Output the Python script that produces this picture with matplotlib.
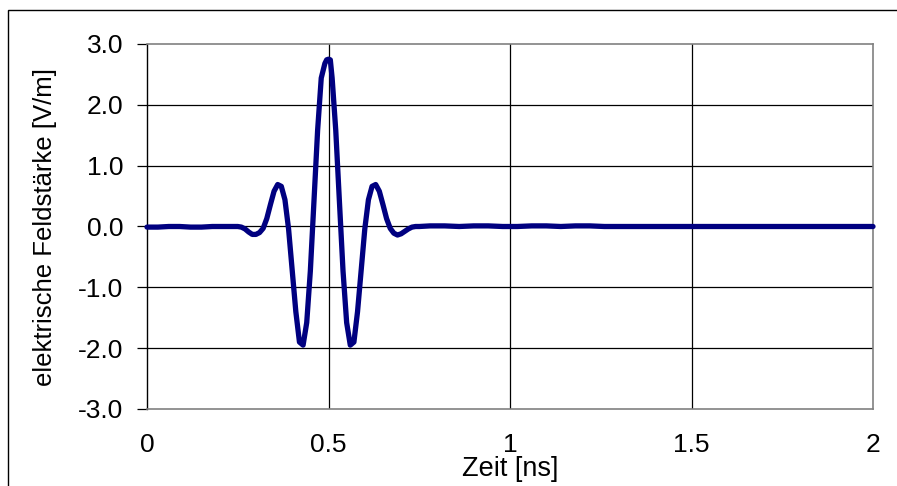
import matplotlib
matplotlib.use("Agg")
import matplotlib.pyplot as plt
from matplotlib.patches import Rectangle

plt.rcParams["font.family"] = ["Liberation Sans", "DejaVu Sans"]

# Sampled pulse: time in ns, field strength in V/m
t_lead = [0.00, 0.03, 0.06, 0.09, 0.12, 0.15, 0.18, 0.21, 0.24]
e_lead = [-0.01, -0.01, 0.00, 0.00, -0.01, -0.01, 0.00, 0.00, 0.00]

t_pulse = [0.25, 0.26, 0.27, 0.28, 0.29, 0.30, 0.31, 0.32, 0.33, 0.34,
           0.35, 0.36, 0.37, 0.38, 0.39, 0.40, 0.41, 0.42, 0.43, 0.44,
           0.45, 0.46, 0.47, 0.48, 0.49, 0.495, 0.50, 0.505, 0.51, 0.52,
           0.53, 0.54, 0.55, 0.56, 0.57, 0.58, 0.59, 0.60, 0.61, 0.62,
           0.63, 0.64, 0.65, 0.66, 0.67, 0.68, 0.69, 0.70, 0.71, 0.72,
           0.73, 0.74, 0.75]
e_pulse = [0.00, -0.01, -0.04, -0.09, -0.13, -0.13, -0.10, -0.03, 0.13, 0.36,
           0.58, 0.69, 0.66, 0.44, -0.04, -0.72, -1.40, -1.90, -1.95, -1.58,
           -0.73, 0.42, 1.58, 2.44, 2.68, 2.74, 2.75, 2.74, 2.44, 1.58,
           0.42, -0.73, -1.58, -1.95, -1.90, -1.40, -0.72, -0.04, 0.44, 0.66,
           0.69, 0.58, 0.36, 0.13, -0.03, -0.11, -0.14, -0.12, -0.08, -0.04,
           -0.01, 0.00, 0.00]

t_tail = [0.78, 0.82, 0.86, 0.90, 0.94, 0.98, 1.02, 1.06, 1.10, 1.14,
          1.18, 1.22, 1.26, 1.30, 1.40, 1.50, 1.60, 1.70, 1.80, 1.90, 2.00]
e_tail = [0.01, 0.01, 0.00, 0.01, 0.01, 0.00, 0.00, 0.01, 0.01, 0.00,
          0.01, 0.01, 0.00, 0.00, 0.00, 0.00, 0.00, 0.00, 0.00, 0.00, 0.00]

t_ns = t_lead + t_pulse + t_tail
e_vm = e_lead + e_pulse + e_tail

x_ticks = [0, 0.5, 1, 1.5, 2]
x_labels = ["0", "0.5", "1", "1.5", "2"]
y_ticks = [-3.0, -2.0, -1.0, 0.0, 1.0, 2.0, 3.0]
y_labels = ["-3.0", "-2.0", "-1.0", "0.0", "1.0", "2.0", "3.0"]

W, H = 897, 486
fig = plt.figure(figsize=(W / 100, H / 100), dpi=100)
ax = fig.add_axes([147 / W, 1 - 409 / H, 726 / W, 365 / H])

# chart frame around the whole figure
fig.patches.append(Rectangle((8 / W, -0.2), 1.2, 1.2 - 10 / H,
                             transform=fig.transFigure, fill=False,
                             edgecolor="black", linewidth=1.0, zorder=0))

for y in y_ticks[1:-1]:
    ax.axhline(y, color="black", linewidth=0.9, zorder=1)
for x in x_ticks[1:-1]:
    ax.axvline(x, color="black", linewidth=0.9, zorder=1)

ax.plot(t_ns, e_vm, color="#000080", linewidth=3.8, solid_joinstyle="round",
        solid_capstyle="round", zorder=3, clip_on=False)

ax.set_xlim(0, 2)
ax.set_ylim(-3, 3)
ax.set_xticks(x_ticks)
ax.set_xticklabels(x_labels)
ax.set_yticks(y_ticks)
ax.set_yticklabels(y_labels)

for side in ("top", "right", "bottom"):
    ax.spines[side].set_color("#808080")
    ax.spines[side].set_linewidth(1.2)
ax.spines["left"].set_color("black")
ax.spines["left"].set_linewidth(1.0)

ax.tick_params(axis="y", direction="out", length=7, width=0.9,
               pad=10, labelsize=19, colors="black")
ax.tick_params(axis="x", length=0, pad=17, labelsize=19)

fig.text(510 / W, 1 - 469 / H, "Zeit [ns]", fontsize=19.5,
         ha="center", va="center")
fig.text(45 / W, 1 - 227 / H, "elektrische Feldstärke [V/m]", fontsize=18.5,
         rotation=90, ha="center", va="center")

fig.savefig("out.png", dpi=100)
